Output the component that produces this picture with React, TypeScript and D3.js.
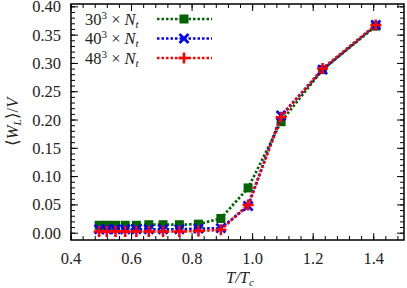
import React from "react";
import * as d3 from "d3";

const temps = [0.493, 0.518, 0.547, 0.579, 0.616, 0.657, 0.704, 0.758, 0.821, 0.895, 0.985, 1.094, 1.231, 1.407];
const green30 = [0.014, 0.014, 0.014, 0.014, 0.014, 0.015, 0.015, 0.015, 0.016, 0.026, 0.080, 0.197, 0.289, 0.366];
const blue40 = [0.007, 0.007, 0.007, 0.007, 0.007, 0.007, 0.007, 0.007, 0.008, 0.009, 0.048, 0.208, 0.289, 0.368];
const red48 = [0.003, 0.003, 0.003, 0.003, 0.003, 0.003, 0.003, 0.003, 0.004, 0.006, 0.050, 0.205, 0.291, 0.368];
const xTicks = [0.4, 0.6, 0.8, 1.0, 1.2, 1.4];
const yTicks = [0.0, 0.05, 0.1, 0.15, 0.2, 0.25, 0.3, 0.35, 0.4];
const legendLabels = ["30", "40", "48"];

const W = 407, H = 288;
const L = 71, R = 404, T = 4, B = 240;
const FONT = "Liberation Serif";
const FS = 16.5;

export default function App() {
  const x = d3.scaleLinear().domain([0.4, 1.5]).range([L, R]);
  const y = d3.scaleLinear().domain([-0.012, 0.405]).range([B, T]);
  const line = d3.line<[number, number]>().x(d => x(d[0])).y(d => y(d[1]));

  const series = [
    { vals: green30, color: "#006400", marker: "square" },
    { vals: blue40, color: "#0000ff", marker: "x" },
    { vals: red48, color: "#ff0000", marker: "plus" },
  ];

  const marker = (type: string, cx: number, cy: number, color: string, key: any) => {
    const s = 4.5;
    if (type === "square") return <rect key={key} x={cx - s} y={cy - s} width={2 * s} height={2 * s} fill={color} />;
    if (type === "x") return (
      <path key={key} d={`M${cx - s},${cy - s}L${cx + s},${cy + s}M${cx - s},${cy + s}L${cx + s},${cy - s}`} stroke={color} strokeWidth={2.6} />
    );
    return <path key={key} d={`M${cx - s - 1},${cy}L${cx + s + 1},${cy}M${cx},${cy - s - 1}L${cx},${cy + s + 1}`} stroke={color} strokeWidth={2.6} />;
  };

  const xMinor = d3.range(0.4, 1.5001, 0.04);
  const yMinor = d3.range(0, 0.4051, 0.01);

  return (
    <svg width={W} height={H} style={{ position: "absolute", left: 0, top: 0 }}>
      <rect width={W} height={H} fill="white" />
      {xMinor.map((v, i) => (
        <g key={"xm" + i}>
          <line x1={x(v)} x2={x(v)} y1={B} y2={B - 4} stroke="#000" strokeWidth={1} />
          <line x1={x(v)} x2={x(v)} y1={T} y2={T + 4} stroke="#000" strokeWidth={1} />
        </g>
      ))}
      {xTicks.map((v, i) => (
        <g key={"xt" + i}>
          <line x1={x(v)} x2={x(v)} y1={B} y2={B - 7} stroke="#000" strokeWidth={1} />
          <line x1={x(v)} x2={x(v)} y1={T} y2={T + 7} stroke="#000" strokeWidth={1} />
          <text x={x(v)} y={264} textAnchor="middle" fontSize={FS} fontFamily={FONT} fill="#222">{v.toFixed(1)}</text>
        </g>
      ))}
      {yMinor.map((v, i) => (
        <g key={"ym" + i}>
          <line x1={L} x2={L + 4} y1={y(v)} y2={y(v)} stroke="#000" strokeWidth={1} />
          <line x1={R} x2={R - 4} y1={y(v)} y2={y(v)} stroke="#000" strokeWidth={1} />
        </g>
      ))}
      {yTicks.map((v, i) => (
        <g key={"yt" + i}>
          <line x1={L} x2={L + 7} y1={y(v)} y2={y(v)} stroke="#000" strokeWidth={1} />
          <line x1={R} x2={R - 7} y1={y(v)} y2={y(v)} stroke="#000" strokeWidth={1} />
          <text x={61} y={y(v) + 5.5} textAnchor="end" fontSize={FS} fontFamily={FONT} fill="#222">{v.toFixed(2)}</text>
        </g>
      ))}
      {series.map((s, si) => (
        <g key={"s" + si}>
          <path d={line(temps.map((t, i) => [t, s.vals[i]] as [number, number])) || ""} fill="none" stroke={s.color} strokeWidth={2.7} strokeDasharray="2.5,2" />
          {temps.map((t, i) => marker(s.marker, x(t), y(s.vals[i]), s.color, i))}
        </g>
      ))}
      {series.map((s, si) => {
        const ly = 19 + si * 19.5;
        return (
          <g key={"l" + si}>
            <text x={85} y={ly + 5.5} fontSize={FS} fontFamily={FONT} fill="#222">
              {legendLabels[si]}
              <tspan dy={-6} fontSize={11}>3</tspan>
              <tspan dy={6}> × </tspan>
              <tspan fontStyle="italic">N</tspan>
              <tspan fontStyle="italic" fontSize={11} dy={3}>t</tspan>
            </text>
            <line x1={157} x2={212} y1={ly} y2={ly} stroke={s.color} strokeWidth={2.7} strokeDasharray="2.5,2" />
            {marker(s.marker, 184, ly, s.color, "m")}
          </g>
        );
      })}
      <rect x={L} y={T} width={R - L} height={B - T} fill="none" stroke="#000" strokeWidth={1.5} />
      <text x={240} y={283} textAnchor="middle" fontSize={FS} fontStyle="italic" fontFamily={FONT} fill="#222">
        T/T<tspan fontSize={11} dy={3}>c</tspan>
      </text>
      <text transform="translate(18,122) rotate(-90)" textAnchor="middle" fontSize={FS} fontFamily={FONT} fill="#222">
        ⟨<tspan fontStyle="italic">W</tspan><tspan fontStyle="italic" fontSize={11} dy={3}>L</tspan><tspan dy={-3}>⟩/</tspan><tspan fontStyle="italic">V</tspan>
      </text>
    </svg>
  );
}
